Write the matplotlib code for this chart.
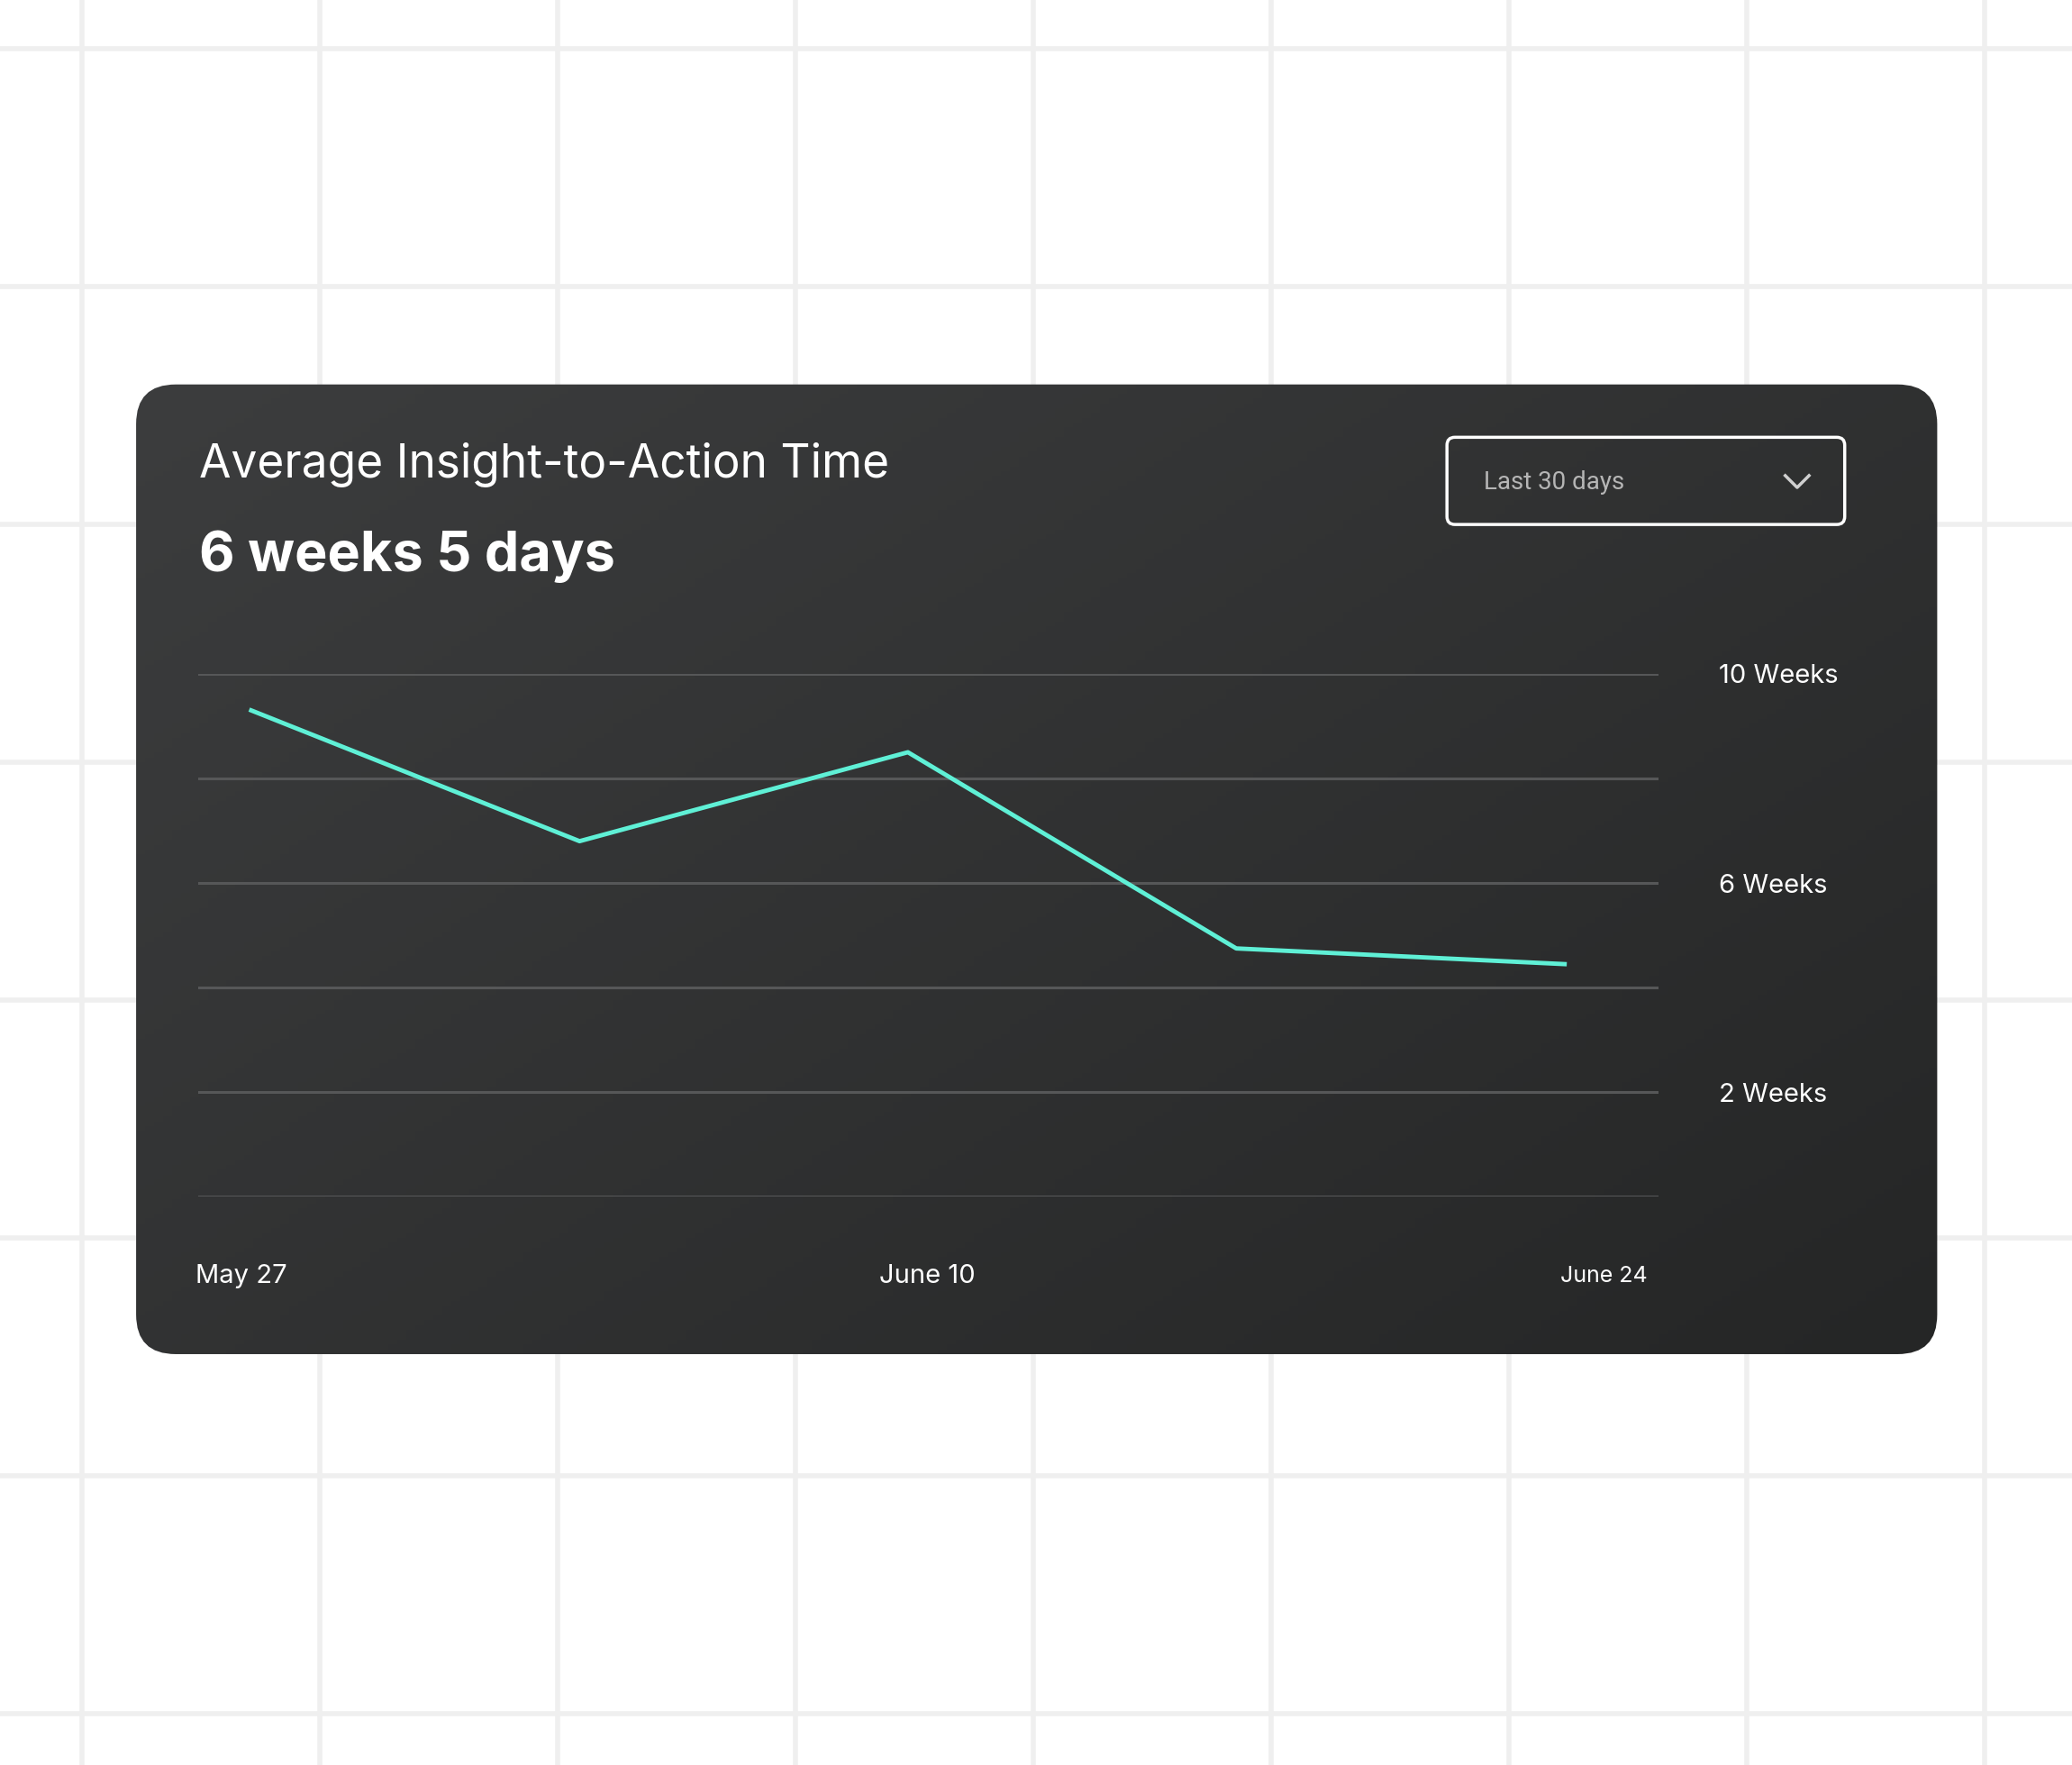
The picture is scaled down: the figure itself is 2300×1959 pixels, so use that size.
import numpy as np
import matplotlib.pyplot as plt
from matplotlib.patches import FancyBboxPatch

# data (weeks), sampled weekly from May 27
days = [0, 7, 14, 21, 28]
weeks = [9.3, 6.8, 8.5, 4.75, 4.45]
ytick_vals = [2, 6, 10]
ytick_labels = ["2 Weeks", "6 Weeks", "10 Weeks"]
xtick_vals = [0, 14, 28]
xtick_labels = ["May 27", "June 10", "June 24"]

W, H = 1568, 1336
fig = plt.figure(figsize=(23, 19.59), dpi=100)
fig.patch.set_facecolor("white")
plt.rcParams["font.family"] = "Inter"

bg = fig.add_axes([0, 0, 1, 1])
bg.set_xlim(0, W)
bg.set_ylim(H, 0)
bg.axis("off")
for gx in range(62, W, 180):
    bg.axvline(gx, color="#efefef", lw=4, zorder=0)
for gy in range(37, H, 180):
    bg.axhline(gy, color="#efefef", lw=4, zorder=0)

# card with gradient
x0, y0, x1, y1 = 103, 291, 1466, 1025
card = FancyBboxPatch((x0, y0), x1 - x0, y1 - y0, boxstyle="round,pad=0,rounding_size=30",
                      facecolor="none", edgecolor="none")
bg.add_patch(card)
gx_, gy_ = np.meshgrid(np.linspace(0, 1, 200), np.linspace(0, 1, 200))
grad = (gx_ * 0.55 + gy_ * 0.45)
im = bg.imshow(grad, extent=[x0, x1, y1, y0], cmap=plt.matplotlib.colors.LinearSegmentedColormap.from_list(
    "c", ["#3c3d3e", "#252626"]), aspect="auto", zorder=1)
im.set_clip_path(card)

def fx(x):
    return x / W

def fy(y):
    return 1 - y / H

fig.text(fx(151), fy(352), "Average Insight-to-Action Time", color="white", fontsize=37,
         va="center", ha="left")
fig.text(fx(151), fy(421), "6 weeks 5 days", color="white", fontsize=44, fontweight="bold",
         va="center", ha="left")

# dropdown
dd = FancyBboxPatch((1095, 331), 301, 66, boxstyle="round,pad=0,rounding_size=6",
                    facecolor="none", edgecolor="white", lw=2.5, zorder=3)
bg.add_patch(dd)
bg.text(1123, 365, "Last 30 days", color="#b5b5b5", fontsize=20, va="center", ha="left",
        family="Roboto", zorder=4)
bg.plot([1351, 1360, 1369], [360, 369, 360], color="#d0d0d0", lw=2.5, zorder=4)

# chart axes
ax = fig.add_axes([fx(150), fy(906), fx(1255) - fx(150), fy(510) - fy(906)])
ax.patch.set_alpha(0)
ax.set_ylim(0, 10)
ax.set_xlim(-1.13, 30)
for v in range(0, 11, 2):
    ax.axhline(v, color="#565758", lw=2.2, zorder=1)
ax.plot(days, weeks, color="#5ff0d6", lw=3.5, zorder=3, clip_on=False)
for s in ax.spines.values():
    s.set_visible(False)
ax.yaxis.tick_right()
ax.set_yticks(ytick_vals)
ax.set_yticklabels(ytick_labels, color="white", fontsize=21)
ax.tick_params(axis="y", length=0, pad=48)
ax.set_xticks([])
xlab_ha = ["left", "center", "right"]
xlab_px = [148, 702, 1247]
for v, lab, ha, px in zip(xtick_vals, xtick_labels, xlab_ha, xlab_px):
    fig.text(fx(px), fy(966), lab, color="white", fontsize=21 if v != 28 else 18,
             ha=ha, va="center")

fig.savefig("out.png", dpi=100)
